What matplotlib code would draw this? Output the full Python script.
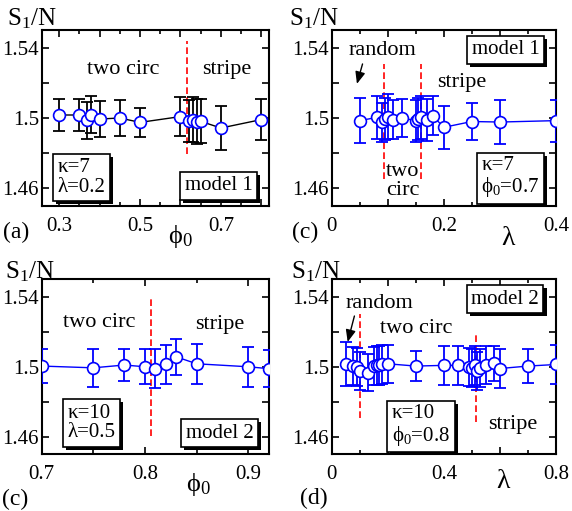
import numpy as np
import matplotlib
matplotlib.use('Agg')
import matplotlib.pyplot as plt
import matplotlib.patheffects as pe

plt.rcParams['font.family'] = ['Liberation Serif', 'DejaVu Serif']
plt.rcParams['mathtext.fontset'] = 'custom'
plt.rcParams['mathtext.rm'] = 'Liberation Serif'
plt.rcParams['mathtext.it'] = 'Liberation Serif:italic'

# (a) model 1, kappa=7, lambda=0.2
phi0_a = [0.30, 0.35, 0.37, 0.38, 0.40, 0.45, 0.50, 0.60, 0.62, 0.63, 0.64, 0.65, 0.70, 0.80]
s1_a = [1.5017, 1.5017, 1.4988, 1.5018, 1.4994, 1.5000, 1.4975, 1.5008, 1.4981, 1.4991, 1.4979, 1.4981, 1.4943, 1.4991]
err_a = [0.0090, 0.0093, 0.0105, 0.0105, 0.0103, 0.0105, 0.0083, 0.0110, 0.0120, 0.0128, 0.0128, 0.0125, 0.0127, 0.0118]

# (c) top right, model 1, kappa=7, phi0=0.7
lam_b = [0.05, 0.08, 0.09, 0.095, 0.10, 0.11, 0.125, 0.15, 0.154, 0.16, 0.17, 0.18, 0.20, 0.25, 0.30, 0.40]
s1_b = [1.4985, 1.5003, 1.4975, 1.4994, 1.5007, 1.4990, 1.5000, 1.4985, 1.4994, 1.5003, 1.4989, 1.5013, 1.4947, 1.4980, 1.4977, 1.4985]
err_b = [0.0126, 0.0120, 0.0110, 0.0120, 0.0128, 0.0110, 0.0110, 0.0120, 0.0120, 0.0120, 0.0120, 0.0110, 0.0123, 0.0105, 0.0124, 0.0120]

# (c) bottom left, model 2, kappa=10, lambda=0.5
phi0_c = [0.70, 0.75, 0.78, 0.80, 0.81, 0.82, 0.83, 0.85, 0.90, 0.92]
s1_c = [1.5004, 1.4994, 1.5010, 1.5000, 1.4990, 1.5013, 1.5057, 1.5017, 1.5000, 1.4989]
err_c = [0.0095, 0.0110, 0.0090, 0.0100, 0.0110, 0.0113, 0.0102, 0.0114, 0.0114, 0.0105]

# (d) model 2, kappa=10, phi0=0.8
lam_d = [0.05, 0.075, 0.09, 0.10, 0.13, 0.15, 0.16, 0.17, 0.18, 0.20, 0.30, 0.40, 0.45,
         0.49, 0.50, 0.51, 0.52, 0.53, 0.55, 0.58, 0.60, 0.70, 0.80]
s1_d = [1.5017, 1.5004, 1.5000, 1.4975, 1.4966, 1.5004, 1.5008, 1.5008, 1.5013, 1.5017, 1.5004, 1.5008, 1.5008,
        1.5000, 1.4994, 1.5008, 1.4975, 1.4994, 1.5010, 1.5019, 1.4990, 1.5004, 1.5013]
err_d = [0.0125, 0.0110, 0.0110, 0.0110, 0.0105, 0.0110, 0.0110, 0.0110, 0.0110, 0.0110, 0.0085, 0.0110, 0.0110,
         0.0110, 0.0110, 0.0110, 0.0110, 0.0110, 0.0110, 0.0100, 0.0110, 0.0095, 0.0114]

blue = '#0000ff'
fs_tick = 15
fs_txt = 16
phi = '\u03d5'

fig = plt.figure(figsize=(5.72, 5.11), dpi=100)
ax_a = fig.add_axes([0.0729, 0.5969, 0.3975, 0.3444])
ax_b = fig.add_axes([0.5799, 0.5969, 0.3920, 0.3444])
ax_c = fig.add_axes([0.0729, 0.1110, 0.3975, 0.3425])
ax_d = fig.add_axes([0.5799, 0.1110, 0.3920, 0.3425])


def style(ax, xlim, xmaj, xlabels, xminor):
    ax.set_xlim(xlim)
    ax.set_ylim(1.45, 1.55)
    ax.set_yticks([1.46, 1.48, 1.50, 1.52, 1.54])
    ax.set_yticklabels(['1.46', '', '1.5', '', '1.54'])
    ax.set_xticks(xmaj)
    ax.set_xticklabels(xlabels)
    ax.set_xticks(xminor, minor=True)
    ax.tick_params(which='both', direction='in', top=True, right=True, width=1.2, labelsize=fs_tick)
    ax.tick_params(which='major', length=5)
    ax.tick_params(which='minor', length=3)
    ax.tick_params(axis='x', pad=8)
    ax.tick_params(axis='y', pad=2)
    for s in ax.spines.values():
        s.set_linewidth(1.5)


def box(ax, x, y, txt):
    t = ax.text(x, y, txt, transform=ax.transAxes, ha='center', va='center', fontsize=fs_tick,
                multialignment='left', linespacing=1.05,
                bbox=dict(boxstyle='square,pad=0.22', fc='white', ec='black', lw=1.2))
    t.get_bbox_patch().set_path_effects([pe.SimplePatchShadow(offset=(2.2, -2.2), shadow_rgbFace='black', alpha=1),
                                         pe.Normal()])


def series(ax, x, y, e, ecol, lcol):
    ax.plot(x, y, '-', color=lcol, lw=1, zorder=2)
    ax.errorbar(x, y, yerr=e, fmt='none', ecolor=ecol, elinewidth=1.3, capsize=4.5, capthick=1.3, zorder=3)
    ax.plot(x, y, 'o', ms=8.5, mfc='white', mec=blue, mew=1.2, zorder=4)


def arrow(ax, head, tail):
    ax.annotate('', xy=head, xytext=tail,
                arrowprops=dict(arrowstyle='-|>,head_width=0.25,head_length=0.6', color='black', lw=1,
                                mutation_scale=12, shrinkA=0, shrinkB=0))


# panel (a)
series(ax_a, phi0_a, s1_a, err_a, 'black', 'black')
style(ax_a, (0.257, 0.819), [0.3, 0.4, 0.5, 0.6, 0.7, 0.8], ['0.3', '', '0.5', '', '0.7', ''],
      [0.35, 0.45, 0.55, 0.65, 0.75])
ax_a.plot([0.616, 0.616], [1.4794, 1.5438], '--', color='red', lw=1.2, dashes=(4, 2))
ax_a.text(0.36, 0.777, 'two circ', transform=ax_a.transAxes, ha='center', va='center', fontsize=fs_txt)
ax_a.text(0.815, 0.777, 'stripe', transform=ax_a.transAxes, ha='center', va='center', fontsize=fs_txt)
box(ax_a, 0.175, 0.162, 'κ=7\nλ=0.2')
box(ax_a, 0.778, 0.114, 'model 1')
ax_a.text(0.608, -0.176, phi + '$_0$', transform=ax_a.transAxes, ha='center', va='center', fontsize=19)

# panel (c) top right
series(ax_b, lam_b, s1_b, err_b, blue, blue)
style(ax_b, (0.0, 0.4), [0.0, 0.1, 0.2, 0.3, 0.4], ['0', '', '0.2', '', '0.4'],
      [0.05, 0.15, 0.25, 0.35])
for xv in [0.094, 0.159]:
    ax_b.plot([xv, xv], [1.4653, 1.5307], '--', color='red', lw=1.2, dashes=(4, 2))
ax_b.text(0.091, 1.5383, 'random', ha='center', va='center', fontsize=fs_txt)
arrow(ax_b, (0.045, 1.5194), (0.055, 1.5307))
ax_b.text(0.232, 1.5203, 'stripe', ha='center', va='center', fontsize=fs_txt)
ax_b.text(0.126, 1.4642, 'two\ncirc', ha='center', va='center', fontsize=fs_txt, linespacing=1.0)
box(ax_b, 0.776, 0.888, 'model 1')
box(ax_b, 0.798, 0.162, 'κ=7\n' + phi + '$_0$=0.7')
ax_b.text(0.786, -0.182, 'λ', transform=ax_b.transAxes, ha='center', va='center', fontsize=20)

# panel (c) bottom left
series(ax_c, phi0_c, s1_c, err_c, blue, blue)
style(ax_c, (0.7, 0.92), [0.7, 0.8, 0.9], ['0.7', '0.8', '0.9'], [0.75, 0.85])
ax_c.plot([0.806, 0.806], [1.4605, 1.5406], '--', color='red', lw=1.2, dashes=(4, 2))
ax_c.text(0.251, 0.751, 'two circ', transform=ax_c.transAxes, ha='center', va='center', fontsize=fs_txt)
ax_c.text(0.783, 0.742, 'stripe', transform=ax_c.transAxes, ha='center', va='center', fontsize=fs_txt)
box(ax_c, 0.218, 0.178, 'κ=10\nλ=0.5')
box(ax_c, 0.783, 0.120, 'model 2')
ax_c.text(0.687, -0.175, phi + '$_0$', transform=ax_c.transAxes, ha='center', va='center', fontsize=19)

# panel (d)
series(ax_d, lam_d, s1_d, err_d, blue, blue)
style(ax_d, (0.0, 0.8), [0.0, 0.2, 0.4, 0.6, 0.8], ['0', '', '0.4', '', '0.8'],
      [0.1, 0.3, 0.5, 0.7])
ax_d.plot([0.10, 0.10], [1.4707, 1.5299], '--', color='red', lw=1.2, dashes=(4, 2))
ax_d.plot([0.515, 0.515], [1.4687, 1.5200], '--', color='red', lw=1.2, dashes=(4, 2))
ax_d.text(0.17, 1.536, 'random', ha='center', va='center', fontsize=fs_txt)
arrow(ax_d, (0.057, 1.5142), (0.081, 1.529))
ax_d.text(0.301, 1.5219, 'two circ', ha='center', va='center', fontsize=fs_txt)
ax_d.text(0.645, 1.4668, 'stripe', ha='center', va='center', fontsize=fs_txt)
box(ax_d, 0.773, 0.887, 'model 2')
box(ax_d, 0.398, 0.163, 'κ=10\n' + phi + '$_0$=0.8')
ax_d.text(0.762, -0.157, 'λ', transform=ax_d.transAxes, ha='center', va='center', fontsize=20)

# y labels and panel letters
for xp, yp in [(0.012, 0.951), (0.505, 0.951), (0.009, 0.456), (0.509, 0.456)]:
    fig.text(xp, yp, 'S$_1$/N', ha='left', va='baseline', fontsize=18)
fig.text(0.028, 0.546, '(a)', ha='center', va='center', fontsize=17)
fig.text(0.533, 0.545, '(c)', ha='center', va='center', fontsize=17)
fig.text(0.027, 0.022, '(c)', ha='center', va='center', fontsize=17)
fig.text(0.548, 0.025, '(d)', ha='center', va='center', fontsize=17)

plt.savefig('out.png', dpi=100)
